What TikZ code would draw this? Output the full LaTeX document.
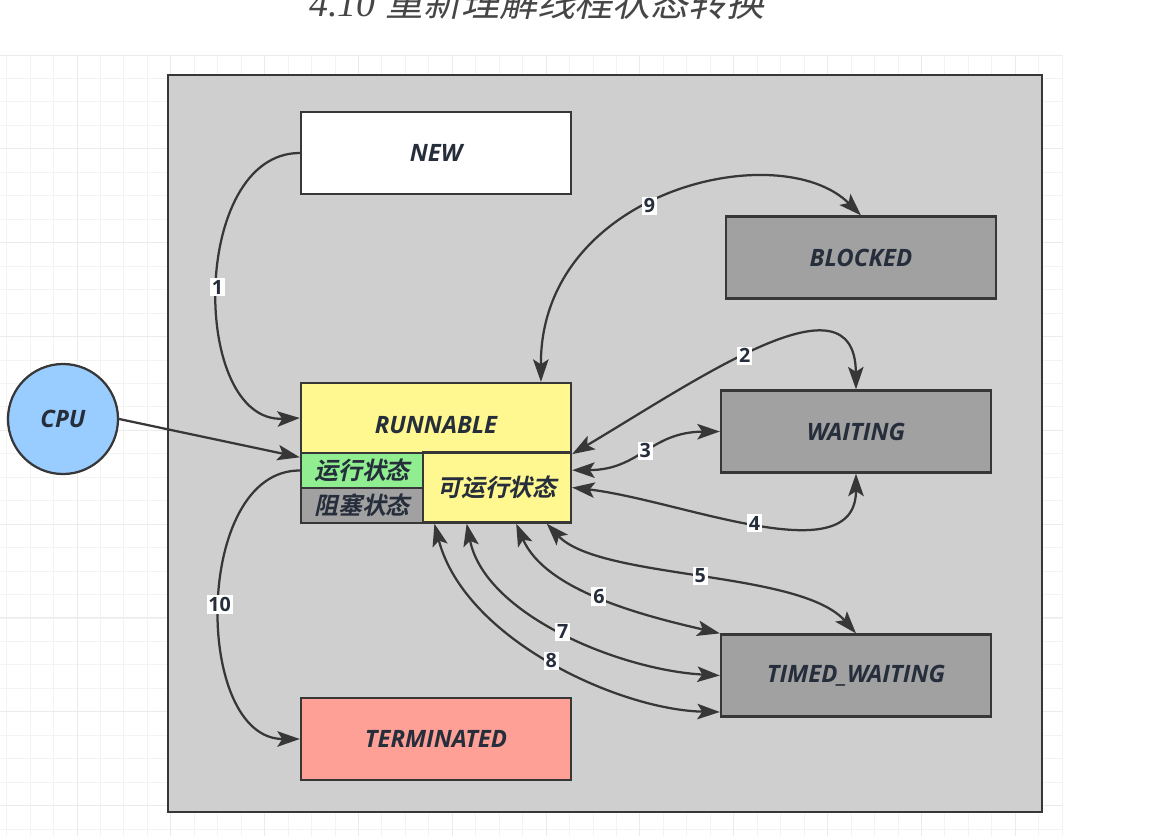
\documentclass[tikz,border=0pt]{standalone}
\usepackage{fontspec}
\setmainfont{Liberation Serif}
\setsansfont{Open Sans}
\newfontfamily\cjk{Noto Sans CJK SC}[
  ItalicFont={Noto Sans CJK SC}, ItalicFeatures={FakeSlant=0.22},
  BoldFont={Noto Sans CJK SC Bold},
  BoldItalicFont={Noto Sans CJK SC Bold}, BoldItalicFeatures={FakeSlant=0.22}]
\usepackage{tikz}
\usetikzlibrary{arrows.meta}
\definecolor{grisCadre}{RGB}{207,207,207}
\definecolor{grisEtat}{RGB}{161,161,161}
\definecolor{trait}{RGB}{55,55,55}
\definecolor{encre}{RGB}{38,46,60}
\definecolor{jaune}{RGB}{255,247,143}
\definecolor{vert}{RGB}{144,238,144}
\definecolor{saumon}{RGB}{255,160,150}
\definecolor{bleuCPU}{RGB}{153,204,255}
\definecolor{grille}{RGB}{243,243,243}
\definecolor{grilleForte}{RGB}{235,235,235}
\definecolor{titre}{RGB}{70,70,70}

\begin{document}
\begin{tikzpicture}[x=0.025cm,y=-0.025cm,
  font=\sffamily\bfseries\itshape\fontsize{17}{20}\selectfont,
  >={Stealth[length=16pt,width=11pt,inset=3.5pt]},
  s/.style={rectangle,minimum width=6.75cm,minimum height=2.05cm,inner sep=0pt,
            draw=trait,line width=1.6pt,text=encre},
  p/.style={rectangle,inner sep=0pt,draw=trait,line width=1.6pt,text=encre},
  a/.style={->,trait,line width=1.6pt},
  aa/.style={<->,trait,line width=1.6pt},
  n/.style={fill=white,inner sep=1.4pt,text=encre,
            font=\sffamily\bfseries\fontsize{14}{16}\selectfont}]

  \useasboundingbox (0,0) rectangle (1159,836);

  % background grid
  \begin{scope}[shift={(6.6,55)}]
    \draw[grille,line width=0.6pt,step=0.58625cm] (-6.6,0) grid (1056.4,781);
  \end{scope}
  \begin{scope}[shift={(77,55)}]
    \draw[grilleForte,line width=0.7pt,step=2.345cm] (-77,0) grid (986,781);
  \end{scope}

  \node[anchor=base,text=titre,font=\mdseries\fontsize{27}{30}\selectfont] (titre) at (537,16)
    {\rmfamily\itshape 4.10 {\cjk\itshape 重新理解线程状态转换}};

  \draw[trait,fill=grisCadre,line width=1.8pt] (168,75) rectangle (1042,812);

  \node[s,fill=white]    (new)     at (436,153)   {NEW};
  \node[s,fill=grisEtat] (blocked) at (861,257.5) {BLOCKED};
  \node[s,fill=grisEtat] (waiting) at (856,431.5) {WAITING};
  \node[s,fill=grisEtat] (timed)   at (856,675.5) {TIMED\_WAITING};
  \node[s,fill=saumon]   (term)    at (436,739)   {TERMINATED};

  \node[p,fill=jaune,minimum width=6.75cm,minimum height=1.75cm] (runnable) at (436,418)
    {\raisebox{-5pt}[\height][\depth]{RUNNABLE}};
  \node[p,fill=vert,minimum width=3.05cm,minimum height=0.875cm] (run) at (362,470.5)
    {\cjk\bfseries\itshape 运行状态};
  \node[p,fill=grisEtat,minimum width=3.05cm,minimum height=0.875cm] (blk) at (362,505.5)
    {\cjk\bfseries\itshape 阻塞状态};
  \node[p,fill=jaune,minimum width=3.7cm,minimum height=1.75cm] (ready) at (497,487.5)
    {\cjk\bfseries\itshape 可运行状态};

  \node[circle,minimum size=2.75cm,inner sep=0pt,draw=trait,line width=1.6pt,
        fill=bleuCPU,text=encre] (cpu) at (63,419) {CPU};

  \draw[a] (new.west) .. controls (190,153) and (190,423) .. (runnable.west) node[n,pos=.5] {1};
  \draw[a] (cpu.east) -- (run.168);
  \draw[a] (run.west) .. controls (193,470) and (193,739) .. (term.west) node[n,pos=.5] {10};
  \draw[aa] (runnable.19) .. controls (540,190) and (780,135) .. (blocked.north) node[n,pos=.45] {9};
  \draw[aa] (runnable.south east) .. controls (700,378) and (855,270) .. (waiting.north) node[n,pos=.45] {2};
  \draw[aa] (ready.13) .. controls (640,470) and (650,432) .. (waiting.west) node[n,pos=.5] {3};
  \draw[aa] (ready.east) .. controls (680,500) and (856,575) .. (waiting.south) node[n,pos=.5] {4};
  \draw[aa] (ready.-36) .. controls (600,580) and (800,570) .. (timed.north) node[n,pos=.5] {5};
  \draw[aa] (ready.-62) .. controls (545,590) and (640,615) .. (timed.north west) node[n,pos=.5] {6};
  \draw[aa] (ready.-130) .. controls (485,615) and (620,670) .. (timed.west) node[n,pos=.5] {7};
  \draw[aa] (ready.-150) .. controls (465,640) and (620,710) .. (timed.-165) node[n,pos=.5] {8};
\end{tikzpicture}
\end{document}
